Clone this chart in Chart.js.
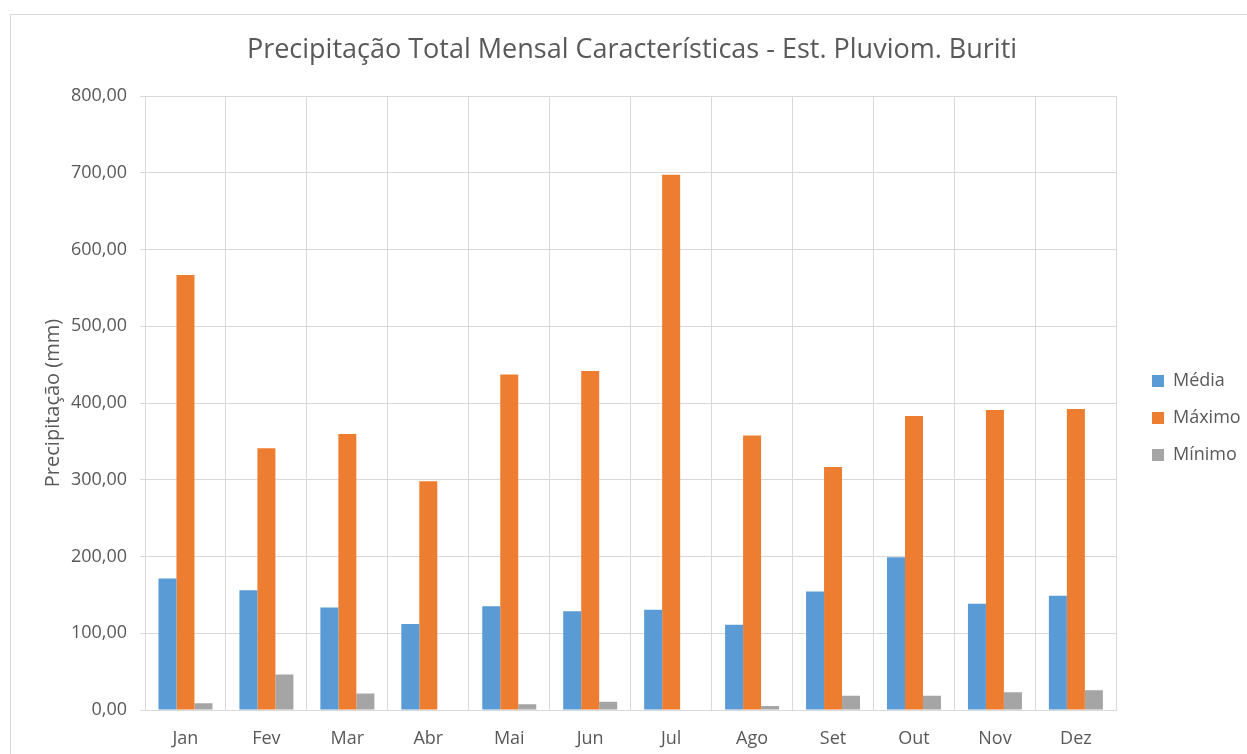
<!DOCTYPE html>
<html><head><meta charset="utf-8">
<script src="https://cdn.jsdelivr.net/npm/chart.js@4/dist/chart.umd.min.js"></script>
<style>
html,body{margin:0;padding:0;background:#fff;}
#wrap{position:relative;width:1247px;height:754px;overflow:hidden;}
#frame{position:absolute;left:10px;top:14px;width:1300px;height:800px;border:1px solid #d9d9d9;box-sizing:border-box;}
canvas{position:absolute;left:0;top:0;}
</style></head><body>
<div id="wrap"><div id="frame"></div><canvas id="c" width="1247" height="754"></canvas></div>
<script>
const months = ['Jan','Fev','Mar','Abr','Mai','Jun','Jul','Ago','Set','Out','Nov','Dez'];
const media  = [171.2,156.0,133.5,112.2,135.3,128.8,130.6,111.1,154.4,199.1,138.4,148.8];
const maximo = [566.7,341.0,359.6,298.0,437.0,441.7,697.3,357.5,316.7,383.0,390.9,392.2];
const minimo = [8.9,46.2,21.5,0,7.4,10.7,0,5.1,18.7,18.7,23.0,25.6];
const yTicks = [0,100,200,300,400,500,600,700,800];
const seriesNames = ['Média','Máximo','Mínimo'];
const colors = ['#5b9bd5','#ed7d31','#a5a5a5'];

const FONT = "'Open Sans', sans-serif";
const TXT = '#595959';
const GRID = '#d9d9d9';

const fmt = v => v.toFixed(2).replace('.', ',');

const legendShift = {
  id: 'legendShift',
  afterLayout(chart) {
    const l = chart.legend;
    const dx = 1152 - (l.left + l.options.labels.padding);
    l.left += dx; l.right += dx;
    l.top += 41; l.bottom += 41;
  }
};

new Chart(document.getElementById('c'), {
  type: 'bar',
  data: {
    labels: months,
    datasets: [media, maximo, minimo].map((d, i) => ({
      label: seriesNames[i],
      data: d,
      backgroundColor: colors[i],
      borderWidth: 0,
      barPercentage: 1.0,
      categoryPercentage: 0.667
    }))
  },
  plugins: [legendShift],
  options: {
    responsive: false,
    animation: false,
    devicePixelRatio: 1,
    layout: { padding: { top: 0, left: 30, right: 13, bottom: 0 } },
    plugins: {
      title: {
        display: true,
        text: 'Precipitação Total Mensal Características - Est. Pluviom. Buriti',
        color: TXT,
        font: { family: FONT, size: 27, weight: 'normal' },
        padding: { top: 34, bottom: 29.6 }
      },
      legend: {
        display: true,
        position: 'right',
        labels: {
          color: TXT,
          font: { family: FONT, size: 18 },
          boxWidth: 12,
          boxHeight: 12,
          padding: 19
        }
      },
      tooltip: { enabled: false }
    },
    scales: {
      x: {
        afterFit: s => { s.height = 44; },
        grid: { offset: true, color: GRID, drawTicks: false },
        border: { color: GRID },
        ticks: { color: TXT, font: { family: FONT, size: 18 }, padding: 18 }
      },
      y: {
        min: 0, max: 800,
        afterBuildTicks: s => { s.ticks = yTicks.map(v => ({ value: v })); },
        afterFit: s => { s.width = 115; },
        grid: { color: GRID, tickLength: 5 },
        border: { color: GRID },
        ticks: { color: TXT, font: { family: FONT, size: 18 }, padding: 13, callback: v => fmt(v) },
        title: {
          display: true,
          text: 'Precipitação (mm)',
          color: TXT,
          font: { family: FONT, size: 20 },
          padding: { top: 11, bottom: 0 }
        }
      }
    }
  }
});
</script>
</body></html>
